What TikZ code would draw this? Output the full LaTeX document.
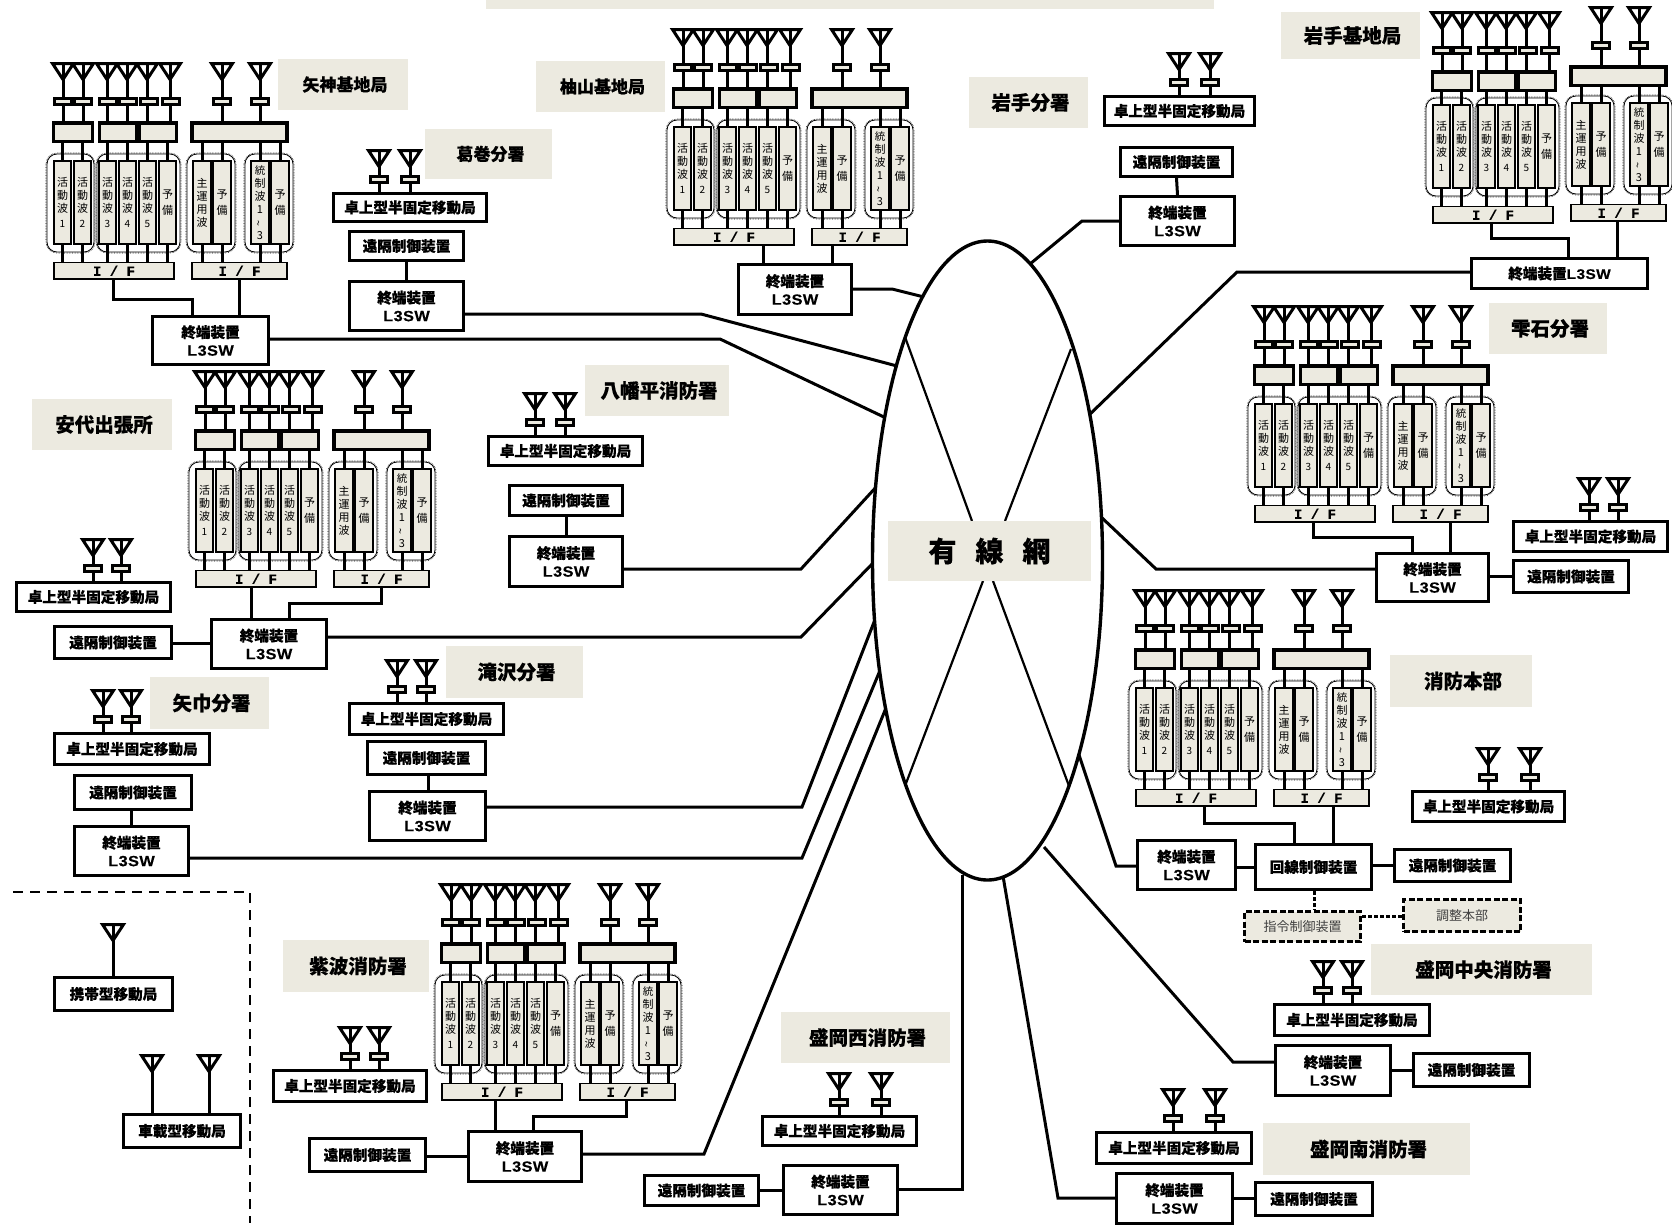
\documentclass[tikz,border=0pt]{standalone}
\usepackage{fontspec}
\usepackage{graphicx}
\usetikzlibrary{shapes.geometric}
\setmainfont{Noto Sans CJK JP}[BoldFeatures={FakeBold=0.35}]
\newfontfamily\latinb{Liberation Sans Bold}[FakeStretch=1.1,LetterSpace=3,FakeBold=0.2]
\newfontfamily\monob{Liberation Mono Bold}[FakeBold=0.3]
\definecolor{paper}{HTML}{ECEAE0}
\tikzset{
  wire/.style={line width=3pt,line join=miter},
  thinwire/.style={line width=2.2pt},
  boxa/.style={draw,line width=3.2pt,fill=white,inner sep=0pt,align=center,font=\fontsize{14.6}{18}\selectfont\bfseries},
  dashbox/.style={draw,line width=3pt,dash pattern=on 6pt off 2.5pt,fill=paper,inner sep=0pt,font=\fontsize{13}{16}\selectfont,text=black!75},
  smallbx/.style={draw,line width=3pt,fill=paper,inner sep=0pt,minimum width=17.5pt,minimum height=6pt},
  bigbx/.style={draw,line width=3.6pt,fill=paper,inner sep=0pt},
  ifbox/.style={draw,line width=1.3pt,fill=paper,inner sep=0pt,font=\monob\fontsize{14}{15}\selectfont},
  cardbx/.style={draw,line width=2.2pt,fill=paper,inner sep=0pt,minimum width=17.5pt,minimum height=83pt,align=center,font=\fontsize{11}{13}\selectfont},
  rnd/.style={draw,line width=.8pt,rounded corners=10pt},
  rndo/.style={draw,line width=.6pt,densely dotted,rounded corners=11pt},
  lab/.style={fill=paper,inner sep=0pt,font=\bfseries},
  anten/.style={line width=3pt,line join=miter},
}
\newcommand\bx[7][boxa]{%
  \pgfmathsetmacro\bxcx{(#3+#5)/2}\pgfmathsetmacro\bxcy{(#4+#6)/2}%
  \pgfmathsetmacro\bxw{#5-#3-3}\pgfmathsetmacro\bxh{#6-#4-3}%
  \node[#1,minimum width=\bxw pt,minimum height=\bxh pt] (#2) at (\bxcx,\bxcy) {#7};}
\newcommand\lb[7][19.5]{%
  \pgfmathsetmacro\bxcx{(#3+#5)/2}\pgfmathsetmacro\bxcy{(#4+#6)/2}%
  \pgfmathsetmacro\bxw{#5-#3}\pgfmathsetmacro\bxh{#6-#4}%
  \node[lab,minimum width=\bxw pt,minimum height=\bxh pt] (#2) at (\bxcx,\bxcy) {\fontsize{#1}{#1}\selectfont\hspace*{4pt}\raisebox{-1pt}{#7}};}
\newcommand\ant[3]{%
  \begin{scope}[shift={(#2,#3)}]
    \draw[anten] (-10.5,1.5) -- (10.5,1.5) -- (0,17.5) -- cycle;
    \draw[anten] (0,1.5) -- (0,17);
    \coordinate (#1) at (0,17);
  \end{scope}}
\newcommand\terminal{終端装置\\{\latinb\fontsize{14.8}{18}\selectfont L3SW}}
\newcommand\desk[7]{% id x0 y0 x1 y1 antx1 antx2
  \bx{#1}{#2}{#3}{#4}{#5}{卓上型半固定移動局}
  \pgfmathsetmacro\dka{#3-43}\pgfmathsetmacro\dks{#3-13}
  \ant{#1a1}{#6}{\dka}\ant{#1a2}{#7}{\dka}
  \node[smallbx] (#1s1) at (#6,\dks) {};
  \node[smallbx] (#1s2) at (#7,\dks) {};
  \draw[wire] (#1a1) -- (#1s1.north);
  \draw[wire] (#1a2) -- (#1s2.north);
  \draw[wire] (#1s1.south) -- (#1s1.south |- #1.north);
  \draw[wire] (#1s2.south) -- (#1s2.south |- #1.north);
}
\newcommand\wv[1]{活\\動\\波\\[2pt]{\fontsize{10}{12}\selectfont #1}}
\newcommand\card[3]{\node[cardbx] (#1) at (#2,140.5) {#3};}
\newcommand\rack[6]{% id x y low righty rightlow
\begin{scope}[shift={(#2,#3)}]
  \foreach \n/\x in {1/10,2/30,3/54,4/74,5/94,6/117}{\ant{#1a\n}{\x}{0}}
  \bx[bigbx]{#1g1}{-1}{59.5}{41}{81}{}
  \bx[bigbx]{#1g2}{45}{59.5}{85}{81}{}
  \bx[bigbx]{#1g3}{85}{59.5}{125}{81}{}
  \foreach \n in {1,...,6}{\draw[wire] (#1a\n) -- (#1a\n |- #1g1.north);}
  \foreach \n/\x in {1/10,2/30,3/55,4/75,5/96,6/118}{\node[smallbx] (#1s\n) at (\x,39) {};}
  \begin{scope}[shift={(0,#4)}]
    \draw[rnd] (-6,92) rectangle (41,190);
    \draw[rndo] (-7,91) rectangle (42,191);
    \draw[rnd] (44,92) rectangle (127,190);
    \draw[rndo] (43,91) rectangle (128,191);
    \bx[ifbox]{#1ifl}{-.5}{199}{122.5}{218.5}{I / F}
    \card{#1c1}{9.5}{\wv{1}}
    \card{#1c2}{29.5}{\wv{2}}
    \card{#1c3}{54.5}{\wv{3}}
    \card{#1c4}{74.5}{\wv{4}}
    \card{#1c5}{94.5}{\wv{5}}
    \card{#1c6}{114.5}{予\\[3pt]備}
    \foreach \n in {1,...,6}{
      \draw[wire] (#1c\n.north) -- (#1c\n.north |- #1g1.south);
      \draw[wire] (#1c\n.south) -- (#1c\n.south |- #1ifl.north);}
  \end{scope}
\end{scope}
\begin{scope}[shift={(#2,#3)},shift={(0,#5)}]
  \ant{#1a7}{169}{0}\ant{#1a8}{207}{0}
  \bx[bigbx]{#1g4}{137.5}{59.5}{235.5}{81}{}
  \draw[wire] (#1a7) -- (#1a7 |- #1g4.north);
  \draw[wire] (#1a8) -- (#1a8 |- #1g4.north);
  \node[smallbx] (#1s7) at (169,39) {};
  \node[smallbx] (#1s8) at (207,39) {};
  \begin{scope}[shift={(0,#6)}]
    \draw[rnd] (134,92) rectangle (182,190);
    \draw[rndo] (133,91) rectangle (183,191);
    \draw[rnd] (192,92) rectangle (240,190);
    \draw[rndo] (191,91) rectangle (241,191);
    \bx[ifbox]{#1ifr}{137.5}{199}{235.5}{218.5}{I / F}
    \card{#1c7}{149}{主\\運\\用\\波}
    \card{#1c8}{169}{予\\[3pt]備}
    \card{#1c9}{207}{\fontsize{10.5}{11.2}\selectfont 統\\制\\波\\1\\\raisebox{0pt}[6pt][2pt]{\rotatebox{90}{\textasciitilde}}\\3}
    \card{#1c10}{227}{予\\[3pt]備}
    \foreach \n in {7,...,10}{
      \draw[wire] (#1c\n.north) -- (#1c\n.north |- #1g4.south);
      \draw[wire] (#1c\n.south) -- (#1c\n.south |- #1ifr.north);}
  \end{scope}
\end{scope}}
\begin{document}
\begin{tikzpicture}[x=1pt,y=-1pt]
\useasboundingbox (0,0) rectangle (1672,1227);
\fill[white] (0,0) rectangle (1672,1227);
\fill[paper] (486,0) rectangle (1214,9);
% labels
\lb[17]{lyg}{278}{59}{408}{110}{矢神基地局}
\lb[17]{lkz}{425}{129}{552}{179}{葛巻分署}
\lb[17]{lyu}{536}{61}{665}{112}{柚山基地局}
\lb{liw}{969}{77}{1088}{128}{岩手分署}
\lb{lib}{1281}{12}{1420}{59}{岩手基地局}
\lb{lsz}{1489}{303}{1607}{354}{雫石分署}
\lb{lhm}{585}{365}{729}{416}{八幡平消防署}
\lb{lad}{32}{399}{172}{450}{安代出張所}
\lb{ltk}{446}{646}{583}{698}{滝沢分署}
\lb{lyh}{150}{677}{269}{729}{矢巾分署}
\lb{lsb}{1390}{655}{1532}{707}{消防本部}
\lb{lmc}{1371}{944}{1592}{995}{盛岡中央消防署}
\lb{lsw}{283}{940}{429}{992}{紫波消防署}
\lb{lmw}{781}{1012}{950}{1063}{盛岡西消防署}
\lb{lms}{1263}{1123}{1470}{1175}{盛岡南消防署}
% ellipse attach points (just inside the outline, which covers them)
\coordinate (e1) at (897,366);
\coordinate (e2) at (886,418);
\coordinate (e3) at (924,297);
\coordinate (e4) at (1030,264);
\coordinate (e5) at (1088,416);
\coordinate (e6) at (1100,516);
\coordinate (e7) at (1078,752);
\coordinate (e8) at (1044,847);
\coordinate (e9) at (1003,876);
\coordinate (e10) at (962,875);
\coordinate (e11) at (878,485);
\coordinate (e12) at (875,561);
\coordinate (e13) at (876,617);
\coordinate (e14) at (881,668);
\coordinate (e15) at (888,703);
% racks
\rack{yg}{53}{62}{0}{0}{0}
\rack{yu}{673}{28}{0}{0}{0}
\rack{ib}{1432}{11}{-5}{-5}{-2}
\rack{sz}{1254}{305}{0}{0}{0}
\rack{sb}{1135}{589}{0}{0}{0}
\rack{ad}{195}{370}{0}{0}{0}
\rack{sh}{441}{883}{0}{0}{0}
% yagami
\bx{ygt}{151}{315}{270}{366}{\terminal}
\draw[wire] (ygifl.south -| 113,0) |- (192,299) -- (ygt.north -| 192,0);
\draw[wire] (ygifr.south -| 239,0) -- (ygt.north -| 239,0);
\draw[wire] (ygt.east |- 0,339) -- (720,339) -- (e2);
% kuzumaki
\desk{kz}{332}{192}{488}{223}{379}{410}
\bx{kzr}{348}{230}{465}{262}{遠隔制御装置}
\bx{kzt}{348}{280}{465}{332}{\terminal}
\draw[wire] (kzr.south) -- (kzt.north);
\draw[wire] (kzt.east |- 0,314) -- (701,314) -- (e1);
% yuzan
\bx{yut}{737}{263}{853}{316}{\terminal}
\draw[wire] (yuifl.south -| 763,0) -- (yut.north -| 763,0);
\draw[wire] (yuifr.south -| 832,0) -- (yut.north -| 832,0);
\draw[wire] (yut.east |- 0,289) -- (892,289) -- (e3);
% iwate
\desk{iw}{1103}{95}{1256}{127}{1179}{1210}
\bx{iwr}{1119}{146}{1234}{178}{遠隔制御装置}
\bx{iwt}{1119}{195}{1236}{247}{\terminal}
\draw[wire] (iwr.south) -- (iwt.north);
\draw[wire] (iwt.west |- 0,221) -- (1082,221) -- (e4);
% iwate base
\bx{ibt}{1470}{257}{1649}{290}{終端装置{\latinb\fontsize{14}{18}\selectfont L3SW}}
\draw[wire] (ibifl.south -| 1491,0) |- (1568,238) -- (ibt.north -| 1568,0);
\draw[wire] (ibifr.south -| 1617,0) -- (ibt.north -| 1617,0);
\draw[wire] (ibt.west |- 0,272) -- (1237,272) -- (e5);
% shizukuishi
\bx{szt}{1375}{552}{1490}{603}{\terminal}
\desk{szd}{1512}{520}{1669}{553}{1589}{1618}
\bx{szr}{1512}{559}{1630}{594}{遠隔制御装置}
\draw[wire] (szifl.south -| 1313,0) |- (1412,537) -- (szt.north -| 1412,0);
\draw[wire] (szifr.south -| 1450,0) -- (szt.north -| 1450,0);
\draw[wire] (szt.east |- 0,576) -- (szr.west |- 0,576);
\draw[wire] (szt.west |- 0,569) -- (1156,569) -- (e6);
% hachimantai
\desk{hm}{487}{435}{644}{467}{535}{565}
\bx{hmr}{508}{484}{624}{517}{遠隔制御装置}
\bx{hmt}{508}{535}{624}{588}{\terminal}
\draw[wire] (hmr.south) -- (hmt.north);
\draw[wire] (hmt.east |- 0,569) -- (801,569) -- (e11);
% ashiro
\desk{add}{15}{581}{172}{613}{93}{121}
\bx{adr}{53}{625}{173}{660}{遠隔制御装置}
\bx{adt}{210}{618}{328}{670}{\terminal}
\draw[wire] (adifl.south -| 251,0) -- (adt.north -| 251,0);
\draw[wire] (adifr.south -| 381,0) |- (289,603) -- (adt.north -| 289,0);
\draw[wire] (adr.east |- 0,643) -- (adt.west |- 0,643);
\draw[wire] (adt.east |- 0,637) -- (801,637) -- (e12);
% takizawa
\desk{tk}{348}{702}{505}{736}{397}{426}
\bx{tkr}{366}{740}{487}{776}{遠隔制御装置}
\bx{tkt}{368}{790}{487}{842}{\terminal}
\draw[wire] (tkr.south -| 428,0) -- (tkt.north -| 428,0);
\draw[wire] (tkt.east |- 0,807) -- (802,807) -- (e13);
% yahaba
\desk{yh}{53}{732}{211}{766}{103}{131}
\bx{yhr}{73}{774}{193}{811}{遠隔制御装置}
\bx{yht}{73}{825}{190}{877}{\terminal}
\draw[wire] (yhr.south -| 131,0) -- (yht.north -| 131,0);
\draw[wire] (yht.east |- 0,858) -- (802,858) -- (e14);
% shiwa
\desk{swd}{272}{1069}{428}{1103}{350}{379}
\bx{swr}{308}{1137}{427}{1173}{遠隔制御装置}
\bx{swt}{467}{1130}{583}{1183}{\terminal}
\draw[wire] (shifl.south -| 495,0) -- (swt.north -| 495,0);
\draw[wire] (shifr.south -| 626,0) |- (533,1116) -- (swt.north -| 533,0);
\draw[wire] (swr.east |- 0,1156) -- (swt.west |- 0,1156);
\draw[wire] (swt.east |- 0,1154) -- (704,1154) -- (e15);
% morioka nishi
\desk{mw}{761}{1115}{918}{1147}{839}{881}
\bx{mwr}{643}{1174}{760}{1207}{遠隔制御装置}
\bx{mwt}{782}{1164}{899}{1216}{\terminal}
\draw[wire] (mwr.east) -- (mwt.west |- mwr.east);
\draw[wire] (mwt.east |- 0,1189) -- (962,1189) -- (e10);
% morioka minami
\desk{ms}{1095}{1131}{1253}{1165}{1173}{1215}
\bx{mst}{1115}{1172}{1234}{1225}{\terminal}
\bx{msr}{1254}{1181}{1374}{1217}{遠隔制御装置}
\draw[wire] (mst.east |- 0,1198) -- (msr.west |- 0,1198);
\draw[wire] (mst.west |- 0,1198) -- (1058,1198) -- (e9);
% morioka chuo
\desk{mc}{1273}{1003}{1431}{1037}{1323}{1352}
\bx{mct}{1274}{1044}{1392}{1097}{\terminal}
\bx{mcr}{1412}{1052}{1531}{1088}{遠隔制御装置}
\draw[wire] (mct.east |- 0,1070) -- (mcr.west |- 0,1070);
\draw[wire] (mct.west |- 0,1062) -- (1233,1062) -- (e8);
% headquarters
\desk{sbd}{1411}{790}{1566}{823}{1488}{1530}
\bx{sbt}{1136}{839}{1237}{891}{\terminal}
\bx{sbk}{1254}{843}{1373}{891}{回線制御装置}
\bx{sbr}{1393}{848}{1512}{883}{遠隔制御装置}
\bx[dashbox]{sbc}{1243}{910}{1362}{943}{指令制御装置}
\bx[dashbox]{sba}{1402}{898}{1522}{933}{調整本部}
\draw[wire] (sbifl.south -| 1204,0) |- (1294,823) -- (sbk.north -| 1294,0);
\draw[wire] (sbifr.south -| 1333,0) -- (sbk.north -| 1333,0);
\draw[wire] (sbt.east |- sbk.west) -- (sbk.west);
\draw[wire] (sbk.east |- sbr.west) -- (sbr.west);
\draw[wire] (sbt.west |- 0,866) -- (1116,866) -- (e7);
\draw[wire,dash pattern=on 4pt off 2pt] (sbk.south -| 1314,0) -- (sbc.north -| 1314,0);
\draw[wire,dash pattern=on 4pt off 2pt] (sbc.east |- 0,916) -- (sba.west |- 0,916);
% cloud, over the ends of the connectors
\node[ellipse,draw,fill=white,line width=3.4pt,inner sep=0pt,minimum width=230pt,minimum height=639pt] (net) at (987.5,560.5) {};
\coordinate (xa1) at (905,337); \coordinate (xa2) at (972,521);
\coordinate (xb1) at (1071,349); \coordinate (xb2) at (1005,521);
\coordinate (xc1) at (905,786); \coordinate (xc2) at (983,581);
\coordinate (xd1) at (1069,786); \coordinate (xd2) at (993,581);
\draw[thinwire] (xa1) -- (xa2); \draw[thinwire] (xb1) -- (xb2);
\draw[thinwire] (xc1) -- (xc2); \draw[thinwire] (xd1) -- (xd2);
\node[fill=paper,inner sep=0pt,minimum width=203pt,minimum height=60pt,font=\fontsize{28}{28}\selectfont\bfseries] (nettext) at (989.5,551) {有\hspace{19pt}線\hspace{19pt}網};
% legend
\coordinate (lg1) at (13,892);\coordinate (lg2) at (250,892);\coordinate (lg3) at (250,1223);
\draw[line width=2.2pt,dash pattern=on 10pt off 7pt] (lg1) -- (lg2) -- (lg3);
\bx{lga}{53}{976}{174}{1012}{携帯型移動局}
\ant{lgaa}{113}{923}
\draw[wire] (lgaa) -- (lgaa |- lga.north);
\bx{lgb}{122}{1113}{242}{1149}{車載型移動局}
\ant{lgba}{152}{1054}\ant{lgbb}{209}{1054}
\draw[wire] (lgba) -- (lgba |- lgb.north);
\draw[wire] (lgbb) -- (lgbb |- lgb.north);
\end{tikzpicture}
\end{document}
